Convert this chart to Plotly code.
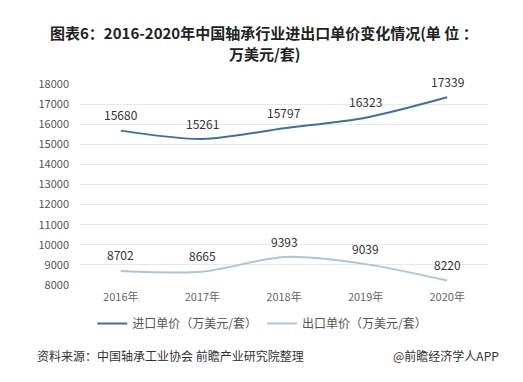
import plotly.graph_objects as go

years = ["2016年", "2017年", "2018年", "2019年", "2020年"]
import_price = [15680, 15261, 15797, 16323, 17339]
export_price = [8702, 8665, 9393, 9039, 8220]
import_name = "进口单价（万美元/套）"
export_name = "出口单价（万美元/套）"
y_ticks = [8000, 9000, 10000, 11000, 12000, 13000, 14000, 15000, 16000, 17000, 18000]
title_lines = ["图表6：2016-2020年中国轴承行业进出口单价变化情况(单 位 ：", "万美元/套)"]

FONT = "Noto Sans CJK SC"

fig = go.Figure()
fig.add_trace(go.Scatter(
    x=years, y=import_price, name=import_name, mode="lines",
    line=dict(color="#3d6fa3", width=2, shape="spline", smoothing=0.8),
))
fig.add_trace(go.Scatter(
    x=years, y=export_price, name=export_name, mode="lines",
    line=dict(color="#a8c6df", width=2, shape="spline", smoothing=0.8),
))

for series in (import_price, export_price):
    for xv, yv in zip(years, series):
        fig.add_annotation(
            x=xv, y=yv, text=str(yv), showarrow=False, yshift=16,
            font=dict(size=12, color="#333333", family=FONT),
        )

for line, ypos in zip(title_lines, (1.254, 1.152)):
    fig.add_annotation(
        text="<b>" + line + "</b>", xref="paper", yref="paper",
        x=0.451, y=ypos, xanchor="center", yanchor="middle", showarrow=False,
        font=dict(size=15, color="#222222", family=FONT),
    )

fig.update_layout(
    width=523, height=382,
    margin=dict(l=72, r=43, t=76, b=105, autoexpand=False),
    paper_bgcolor="white", plot_bgcolor="white",
    font=dict(family=FONT, color="#555555", size=11),
    xaxis=dict(
        type="category", range=[-0.5, 4.5], showgrid=False, showline=False,
        zeroline=False, ticks="", tickfont=dict(size=11, color="#666666"),
        ticklabelstandoff=4,
    ),
    yaxis=dict(
        range=[8000, 18000], tickvals=y_ticks, ticktext=[str(v) for v in y_ticks],
        showgrid=True, gridcolor="#e8e8e8", gridwidth=1, zeroline=False,
        showline=False, ticks="", tickfont=dict(size=11, color="#555555"),
        ticklabelstandoff=10,
    ),
    legend=dict(
        orientation="h", x=0.03, xanchor="left", y=-0.12, yanchor="top",
        font=dict(size=12, color="#555555"), itemwidth=30,
        bgcolor="rgba(0,0,0,0)",
    ),
    showlegend=True,
)

fig.add_annotation(
    text="资料来源：中国轴承工业协会 前瞻产业研究院整理", xref="paper", yref="paper",
    x=-0.11, y=-0.353, xanchor="left", yanchor="middle", showarrow=False,
    font=dict(size=12, color="#333333", family=FONT),
)
fig.add_annotation(
    text="@前瞻经济学人APP", xref="paper", yref="paper",
    x=1.032, y=-0.353, xanchor="right", yanchor="middle", showarrow=False,
    font=dict(size=12, color="#333333", family=FONT),
)

fig.write_html("out.html")
